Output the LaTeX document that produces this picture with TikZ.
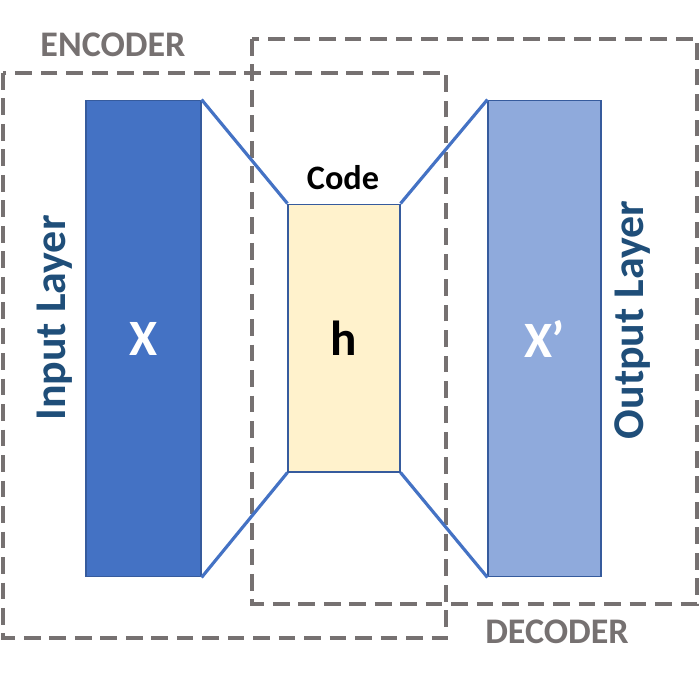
\documentclass[tikz,border=0pt]{standalone}
\usepackage{fontspec}
\setmainfont{Carlito}
\usepackage{xcolor}
\definecolor{inblue}{HTML}{4472C4}
\definecolor{outblue}{HTML}{8FAADC}
\definecolor{codefill}{HTML}{FFF2CC}
\definecolor{boxgray}{HTML}{767171}
\definecolor{labelblue}{HTML}{1F4E79}

\begin{document}
\begin{tikzpicture}[x=0.02cm, y=-0.02cm,
    layer/.style={draw=inblue!80!black, line width=0.6pt, minimum width=2.3cm, minimum height=9.54cm, inner sep=0pt},
    group/.style={draw=boxgray, line width=2.3pt, dash pattern=on 9.5pt off 5pt},
    link/.style={draw=inblue, line width=1.8pt}]
    \useasboundingbox (0,0) rectangle (700,700);
    % encoder / decoder frames
    \draw[group] (3,73) rectangle (446,638);
    \draw[group] (252,39) rectangle (697,604);
    \node[text=boxgray, font=\bfseries\fontsize{20.5}{24}\selectfont] (enc) at (113,45) {ENCODER};
    \node[text=boxgray, font=\bfseries\fontsize{20.5}{24}\selectfont] (dec) at (557,632) {DECODER};
    % the three layers
    \node[layer, fill=inblue, text=white, font=\bfseries\fontsize{29}{33}\selectfont] (inp) at (143.5,338.5) {X};
    \node[layer, fill=codefill, minimum width=2.24cm, minimum height=5.36cm, font=\bfseries\fontsize{28}{32}\selectfont] (code) at (344,338) {h};
    \node[layer, fill=outblue, minimum width=2.26cm, text=white, font=\bfseries\fontsize{29}{33}\selectfont] (out) at (544.5,338.5) {X’};
    \node[font=\bfseries\fontsize{19.5}{23}\selectfont] (codelbl) at (343,178) {Code};
    % side labels
    \node[rotate=90, text=labelblue, font=\bfseries\fontsize{25}{29}\selectfont] (inlbl) at (55,318) {Input Layer};
    \node[rotate=90, text=labelblue, font=\bfseries\fontsize{25}{29}\selectfont] (outlbl) at (633,320) {Output Layer};
    % funnel lines
    \draw[link] (inp.north east) -- (code.north west);
    \draw[link] (inp.south east) -- (code.south west);
    \draw[link] (code.north east) -- (out.north west);
    \draw[link] (code.south east) -- (out.south west);
\end{tikzpicture}
\end{document}
